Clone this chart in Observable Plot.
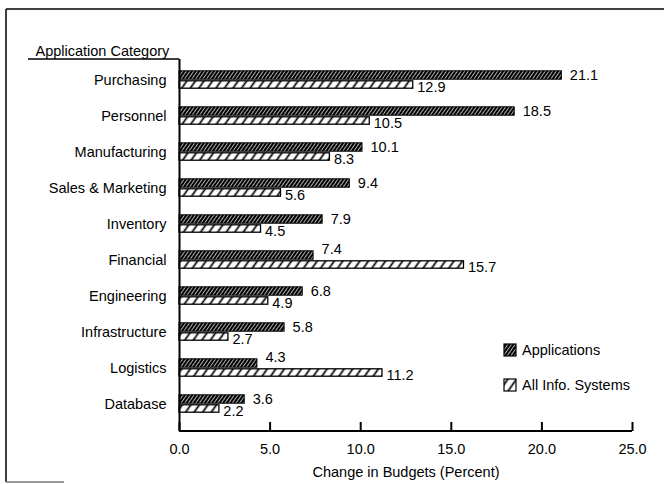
<!DOCTYPE html>
<html>
<head>
<meta charset="utf-8">
<script src="https://cdn.jsdelivr.net/npm/d3@7"></script>
<script src="https://cdn.jsdelivr.net/npm/@observablehq/plot@0.6"></script>
<style>
  html, body { margin: 0; padding: 0; background: white; }
  #chart { width: 664px; height: 484px; }
</style>
</head>
<body>
<svg width="0" height="0" style="position:absolute">
  <defs>
    <pattern id="hatchDark" width="3" height="3" patternUnits="userSpaceOnUse" patternTransform="rotate(35)">
      <rect width="3" height="3" fill="black"></rect>
      <line x1="1.5" y1="0" x2="1.5" y2="3" stroke="white" stroke-width="0.7"></line>
    </pattern>
    <pattern id="hatchLight" width="7" height="7" patternUnits="userSpaceOnUse" patternTransform="rotate(35)">
      <rect width="7" height="7" fill="white"></rect>
      <line x1="3.5" y1="0" x2="3.5" y2="7" stroke="black" stroke-width="1.7"></line>
    </pattern>
  </defs>
</svg>
<div id="chart"></div>
<script>
const categories = ["Purchasing", "Personnel", "Manufacturing", "Sales & Marketing", "Inventory",
  "Financial", "Engineering", "Infrastructure", "Logistics", "Database"];
const applications = [21.1, 18.5, 10.1, 9.4, 7.9, 7.4, 6.8, 5.8, 4.3, 3.6];
const allInfoSystems = [12.9, 10.5, 8.3, 5.6, 4.5, 15.7, 4.9, 2.7, 11.2, 2.2];
const seriesNames = ["Applications", "All Info. Systems"];
const xTicks = [0, 5, 10, 15, 20, 25];
const yTitle = "Application Category";
const xTitle = "Change in Budgets (Percent)";

const rows = categories.map((c, i) => ({cat: c, apps: applications[i], all: allInfoSystems[i]}));
const fmt = d3.format(".1f");
const FONT = "'Liberation Sans', Arial, Helvetica, sans-serif";

const W = 664, H = 484, mL = 179, mR = 32, mT = 59, mB = 53;

const chart = Plot.plot({
  width: W, height: H,
  marginLeft: mL, marginRight: mR, marginTop: mT, marginBottom: mB,
  style: {fontFamily: FONT, fontSize: "14.5px", color: "black", background: "white"},
  x: {domain: [0, 25]},
  y: {domain: categories, range: [58.7, 424.3], padding: 0},
  marks: [
    Plot.barX(rows, {x: "apps", y: "cat", fill: "url(#hatchDark)", stroke: "black", strokeWidth: 1, insetTop: 8.8, insetBottom: 18.8}),
    Plot.barX(rows, {x: "all", y: "cat", fill: "url(#hatchLight)", stroke: "black", strokeWidth: 1.3, insetTop: 18.8, insetBottom: 9.8}),
    Plot.text(rows.filter(d => d.apps >= d.all), {x: "apps", y: "cat", text: d => fmt(d.apps), dx: 8, dy: -5, textAnchor: "start", fill: "black"}),
    Plot.text(rows.filter(d => d.apps < d.all), {x: "apps", y: "cat", text: d => fmt(d.apps), dx: 8, dy: -11, textAnchor: "start", fill: "black"}),
    Plot.text(rows, {x: "all", y: "cat", text: d => fmt(d.all), dx: 4, dy: 7, textAnchor: "start", fill: "black"}),
    Plot.ruleX([0], {stroke: "black", strokeWidth: 2}),
    Plot.ruleX(xTicks, {x: d => d, insetTop: 363, stroke: "black", strokeWidth: 2}),
    Plot.axisX({ticks: xTicks, tickSize: 0, tickPadding: 12, tickFormat: ".1f", label: null}),
    Plot.axisY({tickSize: 0, tickPadding: 13, label: null}),
    Plot.text([xTitle], {frameAnchor: "bottom", dy: 45, fill: "black"}),
    Plot.text([yTitle], {frameAnchor: "top-left", dx: -144, dy: -14, textAnchor: "start", fill: "black"})
  ]
});
document.getElementById("chart").appendChild(chart);

const svg = d3.select(chart);
const xs = chart.scale("x");
// x axis baseline
svg.append("line").attr("x1", xs.apply(0)).attr("x2", xs.apply(25))
  .attr("y1", H - mB).attr("y2", H - mB).attr("stroke", "black").attr("stroke-width", 2);
// header rule
svg.append("line").attr("x1", 28).attr("x2", mL).attr("y1", mT).attr("y2", mT)
  .attr("stroke", "black").attr("stroke-width", 1.5);
// border
svg.append("line").attr("x1", 6).attr("x2", W).attr("y1", 9).attr("y2", 9).attr("stroke", "black").attr("stroke-width", 1.5);
svg.append("line").attr("x1", 6).attr("x2", 6).attr("y1", 9).attr("y2", 482).attr("stroke", "black").attr("stroke-width", 1.5);
svg.append("line").attr("x1", 6).attr("x2", 64).attr("y1", 482).attr("y2", 482).attr("stroke", "#777").attr("stroke-width", 1.5);

// legend
const fills = ["url(#hatchDark)", "url(#hatchLight)"];
const legendY = [350, 385];
const lg = svg.append("g");
seriesNames.forEach((name, i) => {
  lg.append("rect").attr("x", 504).attr("y", legendY[i] - 6).attr("width", 12).attr("height", 12)
    .attr("fill", fills[i]).attr("stroke", "black").attr("stroke-width", 1.2);
  lg.append("text").attr("x", 522).attr("y", legendY[i]).attr("dy", "0.35em")
    .attr("text-anchor", "start")
    .attr("font-family", FONT).attr("font-size", 14.5)
    .attr("fill", "black").text(name);
});
</script>
</body>
</html>
